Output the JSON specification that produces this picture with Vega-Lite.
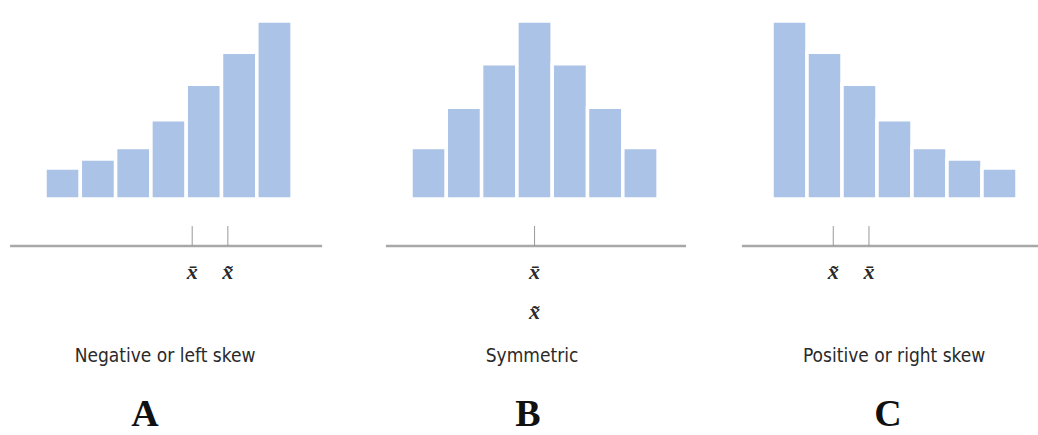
{
  "$schema": "https://vega.github.io/schema/vega-lite/v6.json",
  "padding": 0,
  "spacing": 0,
  "background": "white",
  "config": {"view": {"stroke": null}, "axis": {"disable": true}},
  "datasets": {
    "bars": [
      {"panel": "A", "lo": 0, "hi": 1, "freq": 3.5},
      {"panel": "A", "lo": 1, "hi": 2, "freq": 4.5},
      {"panel": "A", "lo": 2, "hi": 3, "freq": 5.8},
      {"panel": "A", "lo": 3, "hi": 4, "freq": 8.9},
      {"panel": "A", "lo": 4, "hi": 5, "freq": 12.9},
      {"panel": "A", "lo": 5, "hi": 6, "freq": 16.5},
      {"panel": "A", "lo": 6, "hi": 7, "freq": 20},
      {"panel": "B", "lo": 0, "hi": 1, "freq": 5.8},
      {"panel": "B", "lo": 1, "hi": 2, "freq": 10.3},
      {"panel": "B", "lo": 2, "hi": 3, "freq": 15.2},
      {"panel": "B", "lo": 3, "hi": 4, "freq": 20},
      {"panel": "B", "lo": 4, "hi": 5, "freq": 15.2},
      {"panel": "B", "lo": 5, "hi": 6, "freq": 10.3},
      {"panel": "B", "lo": 6, "hi": 7, "freq": 5.8},
      {"panel": "C", "lo": 0, "hi": 1, "freq": 20},
      {"panel": "C", "lo": 1, "hi": 2, "freq": 16.5},
      {"panel": "C", "lo": 2, "hi": 3, "freq": 12.9},
      {"panel": "C", "lo": 3, "hi": 4, "freq": 8.9},
      {"panel": "C", "lo": 4, "hi": 5, "freq": 5.8},
      {"panel": "C", "lo": 5, "hi": 6, "freq": 4.5},
      {"panel": "C", "lo": 6, "hi": 7, "freq": 3.5}
    ],
    "stats": [
      {"panel": "A", "stat": "mean", "value": 4.17, "label": "x̄"},
      {"panel": "A", "stat": "median", "value": 5.18, "label": "x̃"},
      {"panel": "B", "stat": "mean", "value": 3.5, "label": "x̄"},
      {"panel": "B", "stat": "median", "value": 3.5, "label": "x̃"},
      {"panel": "C", "stat": "median", "value": 1.75, "label": "x̃"},
      {"panel": "C", "stat": "mean", "value": 2.77, "label": "x̄"}
    ],
    "lines": [
      {"panel": "A", "start": -0.99, "end": 7.85},
      {"panel": "B", "start": -0.71, "end": 7.79},
      {"panel": "C", "start": -0.86, "end": 7.6}
    ],
    "captions": [
      {"panel": "A", "caption": "Negative or left skew", "letter": "A", "center": 3.4, "lcenter": 2.83},
      {"panel": "B", "caption": "Symmetric", "letter": "B", "center": 3.43, "lcenter": 3.31},
      {"panel": "C", "caption": "Positive or right skew", "letter": "C", "center": 3.49, "lcenter": 3.31}
    ]
  },
  "hconcat": [
    {
      "width": 346, "height": 435,
      "layer": [
        {"data": {"name": "bars"}, "transform": [{"filter": "datum.panel === 'A'"}],
         "mark": {"type": "bar", "color": "#aac3e6", "stroke": "white", "strokeWidth": 3.5},
         "encoding": {
           "x": {"field": "lo", "type": "quantitative", "scale": {"domain": [-1.275, 8.527], "nice": false, "zero": false}},
           "x2": {"field": "hi"},
           "y": {"field": "freq", "type": "quantitative", "scale": {"domain": [-26.5, 22.36], "nice": false, "zero": false}},
           "y2": {"datum": 0}}},
        {"data": {"name": "lines"}, "transform": [{"filter": "datum.panel === 'A'"}],
         "mark": {"type": "rule", "color": "#a8a8a8", "strokeWidth": 2.5},
         "encoding": {"x": {"field": "start", "type": "quantitative"}, "x2": {"field": "end"}, "y": {"datum": -5.28}}},
        {"data": {"name": "stats"}, "transform": [{"filter": "datum.panel === 'A'"}],
         "mark": {"type": "rule", "color": "#999999", "strokeWidth": 1},
         "encoding": {"x": {"field": "value", "type": "quantitative"}, "y": {"datum": -3.03}, "y2": {"datum": -5.28}}},
        {"data": {"name": "stats"}, "transform": [{"filter": "datum.panel === 'A'"}],
         "mark": {"type": "text", "font": "Liberation Serif", "fontStyle": "italic", "fontWeight": "bold", "fontSize": 22, "color": "#2a2a2a", "baseline": "middle"},
         "encoding": {"x": {"field": "value", "type": "quantitative"}, "y": {"datum": -8.2}, "text": {"field": "label"}}},
        {"data": {"name": "captions"}, "transform": [{"filter": "datum.panel === 'A'"}],
         "mark": {"type": "text", "font": "Liberation Sans Narrow, DejaVu Sans Condensed, Arial Narrow, sans-serif", "fontSize": 19, "color": "#2a2a2a", "baseline": "middle"},
         "encoding": {"x": {"field": "center", "type": "quantitative"}, "y": {"datum": -17.6}, "text": {"field": "caption"}}},
        {"data": {"name": "captions"}, "transform": [{"filter": "datum.panel === 'A'"}],
         "mark": {"type": "text", "font": "Liberation Serif", "fontWeight": "bold", "fontSize": 38, "color": "#111111", "baseline": "middle"},
         "encoding": {"x": {"field": "lcenter", "type": "quantitative"}, "y": {"datum": -24.2}, "text": {"field": "letter"}}}
      ]
    },
    {
      "width": 346, "height": 435,
      "layer": [
        {"data": {"name": "bars"}, "transform": [{"filter": "datum.panel === 'B'"}],
         "mark": {"type": "bar", "color": "#aac3e6", "stroke": "white", "strokeWidth": 3.5},
         "encoding": {
           "x": {"field": "lo", "type": "quantitative", "scale": {"domain": [-1.841, 7.96], "nice": false, "zero": false}},
           "x2": {"field": "hi"},
           "y": {"field": "freq", "type": "quantitative", "scale": {"domain": [-26.5, 22.36], "nice": false, "zero": false}},
           "y2": {"datum": 0}}},
        {"data": {"name": "lines"}, "transform": [{"filter": "datum.panel === 'B'"}],
         "mark": {"type": "rule", "color": "#a8a8a8", "strokeWidth": 2.5},
         "encoding": {"x": {"field": "start", "type": "quantitative"}, "x2": {"field": "end"}, "y": {"datum": -5.28}}},
        {"data": {"name": "stats"}, "transform": [{"filter": "datum.panel === 'B' && datum.stat === 'mean'"}],
         "mark": {"type": "rule", "color": "#999999", "strokeWidth": 1},
         "encoding": {"x": {"field": "value", "type": "quantitative"}, "y": {"datum": -3.03}, "y2": {"datum": -5.28}}},
        {"data": {"name": "stats"}, "transform": [{"filter": "datum.panel === 'B' && datum.stat === 'mean'"}],
         "mark": {"type": "text", "font": "Liberation Serif", "fontStyle": "italic", "fontWeight": "bold", "fontSize": 22, "color": "#2a2a2a", "baseline": "middle"},
         "encoding": {"x": {"field": "value", "type": "quantitative"}, "y": {"datum": -8.2}, "text": {"field": "label"}}},
        {"data": {"name": "stats"}, "transform": [{"filter": "datum.panel === 'B' && datum.stat === 'median'"}],
         "mark": {"type": "text", "font": "Liberation Serif", "fontStyle": "italic", "fontWeight": "bold", "fontSize": 22, "color": "#2a2a2a", "baseline": "middle"},
         "encoding": {"x": {"field": "value", "type": "quantitative"}, "y": {"datum": -12.7}, "text": {"field": "label"}}},
        {"data": {"name": "captions"}, "transform": [{"filter": "datum.panel === 'B'"}],
         "mark": {"type": "text", "font": "Liberation Sans Narrow, DejaVu Sans Condensed, Arial Narrow, sans-serif", "fontSize": 19, "color": "#2a2a2a", "baseline": "middle"},
         "encoding": {"x": {"field": "center", "type": "quantitative"}, "y": {"datum": -17.6}, "text": {"field": "caption"}}},
        {"data": {"name": "captions"}, "transform": [{"filter": "datum.panel === 'B'"}],
         "mark": {"type": "text", "font": "Liberation Serif", "fontWeight": "bold", "fontSize": 38, "color": "#111111", "baseline": "middle"},
         "encoding": {"x": {"field": "lcenter", "type": "quantitative"}, "y": {"datum": -24.2}, "text": {"field": "letter"}}}
      ]
    },
    {
      "width": 346, "height": 435,
      "layer": [
        {"data": {"name": "bars"}, "transform": [{"filter": "datum.panel === 'C'"}],
         "mark": {"type": "bar", "color": "#aac3e6", "stroke": "white", "strokeWidth": 3.5},
         "encoding": {
           "x": {"field": "lo", "type": "quantitative", "scale": {"domain": [-2.286, 7.6], "nice": false, "zero": false}},
           "x2": {"field": "hi"},
           "y": {"field": "freq", "type": "quantitative", "scale": {"domain": [-26.5, 22.36], "nice": false, "zero": false}},
           "y2": {"datum": 0}}},
        {"data": {"name": "lines"}, "transform": [{"filter": "datum.panel === 'C'"}],
         "mark": {"type": "rule", "color": "#a8a8a8", "strokeWidth": 2.5},
         "encoding": {"x": {"field": "start", "type": "quantitative"}, "x2": {"field": "end"}, "y": {"datum": -5.28}}},
        {"data": {"name": "stats"}, "transform": [{"filter": "datum.panel === 'C'"}],
         "mark": {"type": "rule", "color": "#999999", "strokeWidth": 1},
         "encoding": {"x": {"field": "value", "type": "quantitative"}, "y": {"datum": -3.03}, "y2": {"datum": -5.28}}},
        {"data": {"name": "stats"}, "transform": [{"filter": "datum.panel === 'C'"}],
         "mark": {"type": "text", "font": "Liberation Serif", "fontStyle": "italic", "fontWeight": "bold", "fontSize": 22, "color": "#2a2a2a", "baseline": "middle"},
         "encoding": {"x": {"field": "value", "type": "quantitative"}, "y": {"datum": -8.2}, "text": {"field": "label"}}},
        {"data": {"name": "captions"}, "transform": [{"filter": "datum.panel === 'C'"}],
         "mark": {"type": "text", "font": "Liberation Sans Narrow, DejaVu Sans Condensed, Arial Narrow, sans-serif", "fontSize": 19, "color": "#2a2a2a", "baseline": "middle"},
         "encoding": {"x": {"field": "center", "type": "quantitative"}, "y": {"datum": -17.6}, "text": {"field": "caption"}}},
        {"data": {"name": "captions"}, "transform": [{"filter": "datum.panel === 'C'"}],
         "mark": {"type": "text", "font": "Liberation Serif", "fontWeight": "bold", "fontSize": 38, "color": "#111111", "baseline": "middle"},
         "encoding": {"x": {"field": "lcenter", "type": "quantitative"}, "y": {"datum": -24.2}, "text": {"field": "letter"}}}
      ]
    }
  ]
}
